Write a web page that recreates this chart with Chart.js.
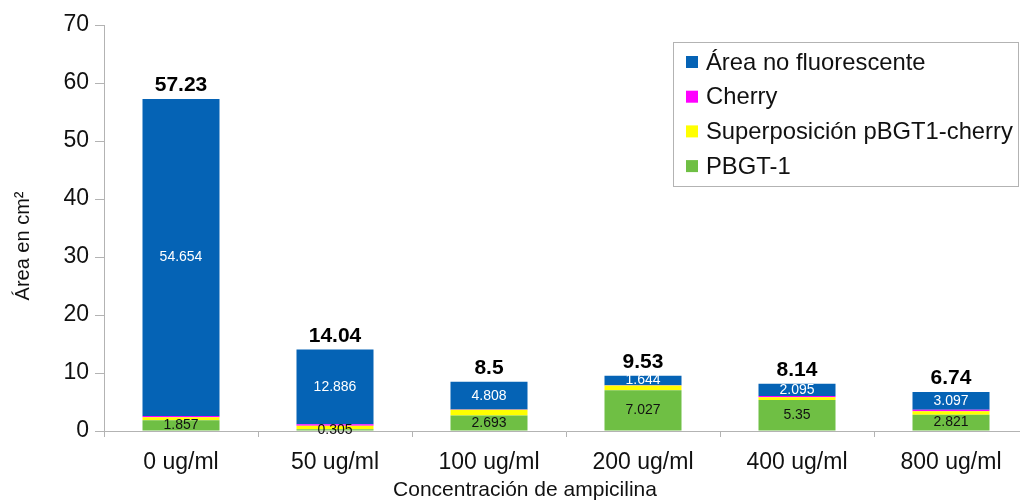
<!DOCTYPE html>
<html>
<head>
<meta charset="utf-8">
<script src="https://cdn.jsdelivr.net/npm/chart.js@4"></script>
<style>
  html, body { margin: 0; padding: 0; background: #fff; overflow: hidden; }
  #wrap { width: 1028px; height: 500px; }
</style>
</head>
<body>
<div id="wrap"><canvas id="barsArea"></canvas></div>
<script>
const categories = ['0 ug/ml', '50 ug/ml', '100 ug/ml', '200 ug/ml', '400 ug/ml', '800 ug/ml'];
const pbgt1 = [1.857, 0.305, 2.693, 7.027, 5.35, 2.821];
const superposicion = [0.5, 0.6, 0.98, 0.8, 0.45, 0.6];
const cherry = [0.219, 0.249, 0.019, 0.059, 0.245, 0.222];
const noFluorescente = [54.654, 12.886, 4.808, 1.644, 2.095, 3.097];
const yTicks = [0, 10, 20, 30, 40, 50, 60, 70];

const FONT = "'Liberation Sans', Arial, sans-serif";
const axisColor = '#b3b3b3';
const textColor = '#111';

// values written inside segments, plus the bold total above each bar
const segmentLabels = {
  id: 'segmentLabels',
  afterDatasetsDraw(chart) {
    const ctx = chart.ctx;
    ctx.save();
    ctx.textAlign = 'center';
    chart.data.datasets.forEach((ds, i) => {
      if (!ds.showValue) return;
      const meta = chart.getDatasetMeta(i);
      meta.data.forEach((bar, j) => {
        ctx.font = '14px ' + FONT;
        ctx.fillStyle = ds.valueColor;
        ctx.textBaseline = 'middle';
        ctx.fillText(String(ds.data[j]), bar.x, (bar.y + bar.base) / 2);
      });
    });
    const top = chart.getDatasetMeta(chart.data.datasets.length - 1);
    top.data.forEach((bar, j) => {
      let total = 0;
      chart.data.datasets.forEach(ds => { total += ds.data[j]; });
      ctx.font = 'bold 21px ' + FONT;
      ctx.fillStyle = '#000';
      ctx.textBaseline = 'alphabetic';
      ctx.fillText(String(Math.round(total * 100) / 100), bar.x, bar.y - 8);
    });
    ctx.restore();
  }
};

// axis titles and the boxed legend in the upper right of the plot
const boxLegend = {
  id: 'boxLegend',
  afterDraw(chart) {
    const ctx = chart.ctx;
    ctx.save();
    ctx.fillStyle = textColor;
    ctx.textAlign = 'center';
    ctx.textBaseline = 'middle';
    ctx.font = '21px ' + FONT;
    ctx.fillText('Concentración de ampicilina', 525, 490);
    ctx.translate(23, 246);
    ctx.rotate(-Math.PI / 2);
    ctx.font = '20px ' + FONT;
    ctx.fillText('Área en cm²', 0, 0);
    ctx.restore();

    const x = 673, y = 42, w = 345, h = 144;
    ctx.save();
    ctx.fillStyle = '#fff';
    ctx.fillRect(x, y, w, h);
    ctx.strokeStyle = axisColor;
    ctx.lineWidth = 1;
    ctx.strokeRect(x + 0.5, y + 0.5, w, h);
    const items = chart.data.datasets.slice().reverse();
    items.forEach((ds, k) => {
      const cy = 62 + k * 34.7;
      ctx.fillStyle = ds.backgroundColor;
      ctx.fillRect(686, cy - 6, 12, 12);
      ctx.fillStyle = textColor;
      ctx.font = '23.8px ' + FONT;
      ctx.textAlign = 'left';
      ctx.textBaseline = 'middle';
      ctx.fillText(ds.label, 706, cy + 1);
    });
    ctx.restore();
  }
};

const barConfig = {
  type: 'bar',
  data: {
    labels: categories,
    datasets: [
      { label: 'PBGT-1', data: pbgt1, backgroundColor: '#6fbf44', showValue: true, valueColor: '#111' },
      { label: 'Superposición pBGT1-cherry', data: superposicion, backgroundColor: '#ffff00' },
      { label: 'Cherry', data: cherry, backgroundColor: '#ff00ff' },
      { label: 'Área no fluorescente', data: noFluorescente, backgroundColor: '#0563b5', showValue: true, valueColor: '#fff' },
    ],
  },
  options: {
    responsive: true,
    maintainAspectRatio: false,
    animation: false,
    layout: { padding: { top: 25, right: 0, left: 0, bottom: 0 } },
    plugins: {
      legend: { display: false },
      tooltip: { enabled: false },
    },
    datasets: { bar: { barPercentage: 0.5, categoryPercentage: 1.0, borderWidth: 0 } },
    scales: {
      x: {
        stacked: true,
        grid: { display: true, drawOnChartArea: false, drawTicks: true, tickLength: 6, color: axisColor, offset: true },
        border: { color: axisColor },
        ticks: { color: textColor, font: { size: 23, family: FONT }, padding: 12 },
        afterFit(scale) { scale.height = 69; },
      },
      y: {
        stacked: true,
        min: 0,
        max: 70,
        afterBuildTicks(scale) { scale.ticks = yTicks.map(v => ({ value: v })); },
        grid: { display: true, drawOnChartArea: false, drawTicks: true, tickLength: 9, color: axisColor },
        border: { color: axisColor },
        ticks: { color: textColor, font: { size: 23, family: FONT }, padding: 6 },
        afterFit(scale) { scale.width = 104; },
      },
    },
  },
  plugins: [segmentLabels, boxLegend],
};

const barsCtx = document.getElementById('barsArea');
window.myBar = new Chart(barsCtx, barConfig);
</script>
</body>
</html>
